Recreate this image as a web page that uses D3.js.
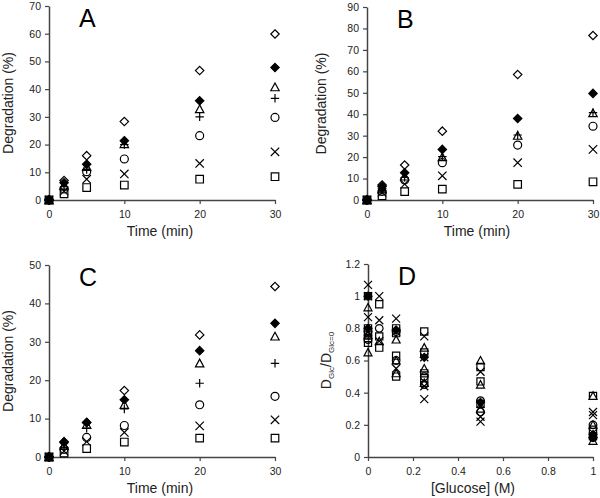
<!DOCTYPE html>
<html><head><meta charset="utf-8">
<script src="https://cdn.jsdelivr.net/npm/d3@7/dist/d3.min.js"></script>
<style>body{margin:0;background:#fff}svg{display:block}text{font-family:"Liberation Sans",Arial,sans-serif}</style>
</head><body><svg id="c" width="600" height="498"></svg>
<script>
// ---------- data ----------
const times = [0, 2, 5, 10, 20, 30];
const seriesNames = ["diamond", "diamondFilled", "triangle", "plus", "circle", "cross", "square"];

// Panel A
const aDiamond       = [0, 7.0, 16.0, 28.3, 46.7, 59.9];
const aDiamondFilled = [0, 6.2, 12.9, 21.4, 35.8, 47.8];
const aTriangle      = [0, 5.2, 12.0, 20.2, 32.8, 40.7];
const aPlus          = [0, 4.8, 11.0, 20.0, 30.0, 36.7];
const aCircle        = [0, 4.0, 10.2, 14.8, 23.2, 29.8];
const aCross         = [0, 3.2, 7.5, 9.4, 13.2, 17.4];
const aSquare        = [0, 2.2, 4.5, 5.4, 7.5, 8.4];

// Panel B
const bDiamond       = [0, 7.0, 16.3, 32.1, 58.5, 76.7];
const bDiamondFilled = [0, 6.3, 12.7, 23.6, 38.0, 49.7];
const bTriangle      = [0, 5.0, 11.0, 20.0, 30.0, 40.5];
const bPlus          = [0, 4.5, 10.5, 20.2, 30.3, 40.7];
const bCircle        = [0, 4.0, 9.3, 17.4, 25.6, 34.4];
const bCross         = [0, 3.5, 7.4, 11.3, 17.4, 23.6];
const bSquare        = [0, 2.0, 3.9, 5.1, 7.3, 8.5];

// Panel C
const cDiamond       = [0, 4.0, 9.0, 17.3, 31.8, 44.4];
const cDiamondFilled = [0, 3.8, 9.0, 14.9, 27.7, 34.8];
const cTriangle      = [0, 3.0, 8.4, 13.6, 24.4, 31.4];
const cPlus          = [0, 2.5, 7.5, 12.5, 19.2, 24.4];
const cCircle        = [0, 2.0, 5.1, 8.2, 13.6, 15.8];
const cCross         = [0, 1.5, 4.0, 6.4, 8.1, 9.7];
const cSquare        = [0, 1.0, 2.2, 3.9, 4.9, 4.9];

// Panel D : glucose concentrations, values per marker type at each concentration
const glucose = [0, 0.05, 0.125, 0.25, 0.5, 1];
const dSquare   = [[1.0, 0.8, 0.77, 0.74, 0.71], [0.95, 0.75, 0.68], [0.8, 0.77, 0.63, 0.5], [0.78, 0.65, 0.52, 0.49], [0.56, 0.47, 0.33], [0.38, 0.17, 0.13]];
const dTriangle = [[0.93, 0.76, 0.65], [0.72], [0.73, 0.6, 0.52], [0.68, 0.55, 0.46], [0.6, 0.45, 0.3], [0.38, 0.2, 0.1]];
const dCross    = [[1.07, 1.0, 0.87, 0.78], [1.0, 0.85, 0.72], [0.86, 0.78, 0.55], [0.75, 0.62, 0.44, 0.36], [0.53, 0.33, 0.25, 0.22], [0.28, 0.26, 0.15]];
const dCircle   = [[0.78, 0.73], [0.8], [0.78, 0.6], [0.5, 0.45], [0.35, 0.28], [0.2, 0.12]];
const dFilled   = [[1.0, 0.8], [], [0.79], [0.62], [0.34], [0.14, 0.12]];

const panelLabels = ["A", "B", "C", "D"];
const yMaxes = [70, 90, 50, 1.2];
const timeTicks = [0, 10, 20, 30];
const glucoseTicks = [0, 0.2, 0.4, 0.6, 0.8, 1];

// ---------- drawing ----------
const svg = d3.select("#c");
const axisColor = "#444";

function shapePath(type, s) {
  switch (type) {
    case "diamond": case "diamondFilled":
      return `M0,${-s}L${s},0L0,${s}L${-s},0Z`;
    case "triangle":
      return `M0,${-s}L${s},${s * 0.85}L${-s},${s * 0.85}Z`;
    case "square":
      return `M${-s * 0.9},${-s * 0.9}H${s * 0.9}V${s * 0.9}H${-s * 0.9}Z`;
    case "circle": {
      const p = d3.path(); p.arc(0, 0, s * 0.95, 0, 2 * Math.PI); return p.toString();
    }
    case "cross":
      return `M${-s},${-s}L${s},${s}M${-s},${s}L${s},${-s}`;
    case "plus":
      return `M${-s},0L${s},0M0,${-s}L0,${s}`;
  }
}

function drawMarker(g, type, x, y, s) {
  g.append("path")
    .attr("transform", `translate(${x},${y})`)
    .attr("d", shapePath(type, s))
    .attr("fill", type === "diamondFilled" ? "#000" : "none")
    .attr("stroke", "#000")
    .attr("stroke-width", 1.2);
}

function styleAxis(g) {
  g.select(".domain").attr("stroke", axisColor).attr("stroke-width", 1.5);
  g.selectAll(".tick line").attr("stroke", axisColor).attr("stroke-width", 1.2);
  g.selectAll(".tick text").attr("fill", "#222").attr("font-size", 10.5);
}

const panels = [
  { x0: 49, x1: 275, y0: 200, y1: 6, data: [aDiamond, aDiamondFilled, aTriangle, aPlus, aCircle, aCross, aSquare], yStep: 10, xt: 160 },
  { x0: 367, x1: 593, y0: 200, y1: 7, data: [bDiamond, bDiamondFilled, bTriangle, bPlus, bCircle, bCross, bSquare], yStep: 10, xt: 477 },
  { x0: 49, x1: 275, y0: 457, y1: 265, data: [cDiamond, cDiamondFilled, cTriangle, cPlus, cCircle, cCross, cSquare], yStep: 10, xt: 160 },
  { x0: 368, x1: 593, y0: 457, y1: 264, yStep: 0.2, xt: 473 }
];

panels.forEach((p, i) => {
  const isD = i === 3;
  const x = d3.scaleLinear().domain(isD ? [0, 1] : [0, 30]).range([p.x0, p.x1]);
  const y = d3.scaleLinear().domain([0, yMaxes[i]]).range([p.y0, p.y1]);
  const g = svg.append("g");

  const yTicks = d3.range(0, yMaxes[i] + p.yStep / 2, p.yStep).map(v => +v.toFixed(2));
  const yAxis = g.append("g").attr("transform", `translate(${p.x0},0)`)
    .call(d3.axisLeft(y).tickValues(yTicks).tickSize(4).tickSizeOuter(0).tickPadding(4)
      .tickFormat(d => d3.format("~g")(d)));
  styleAxis(yAxis);

  const xAxis = g.append("g").attr("transform", `translate(0,${p.y0})`)
    .call(d3.axisBottom(x).tickValues(isD ? glucoseTicks : timeTicks).tickSize(4).tickSizeOuter(0).tickPadding(7)
      .tickFormat(d => d3.format("~g")(d)));
  styleAxis(xAxis);

  // axis titles
  g.append("text").attr("x", p.xt).attr("y", p.y0 + 36)
    .attr("text-anchor", "middle").attr("font-size", 14).attr("fill", "#222")
    .text(isD ? "[Glucose] (M)" : "Time (min)");

  const ty = (p.y0 + p.y1) / 2;
  const tx = p.x0 - (isD ? 37 : (i === 1 ? 41 : 36));
  const yt = g.append("text").attr("transform", `translate(${tx},${ty}) rotate(-90)`)
    .attr("text-anchor", "middle").attr("font-size", 14).attr("fill", "#222");
  if (isD) {
    yt.append("tspan").text("D");
    yt.append("tspan").attr("font-size", 8).attr("dy", 3).text("Glc");
    yt.append("tspan").attr("dy", -3).text("/D");
    yt.append("tspan").attr("font-size", 8).attr("dy", 3).text("Glc=0");
  } else {
    yt.text("Degradation (%)");
  }

  // panel letter
  g.append("text").attr("x", p.x0 + 30).attr("y", p.y1 + 21)
    .attr("font-size", 25).attr("fill", "#000").text(panelLabels[i]);

  const mg = g.append("g");
  if (!isD) {
    p.data.forEach((vals, si) => {
      vals.forEach((v, ti) => drawMarker(mg, seriesNames[si], x(times[ti]), y(v), 4.2));
    });
  } else {
    const groups = [["square", dSquare], ["triangle", dTriangle], ["circle", dCircle], ["cross", dCross], ["diamondFilled", dFilled]];
    groups.forEach(([type, arr]) => {
      arr.forEach((vals, ci) => vals.forEach(v => drawMarker(mg, type, x(glucose[ci]), y(v), 4)));
    });
  }
});
</script></body></html>
